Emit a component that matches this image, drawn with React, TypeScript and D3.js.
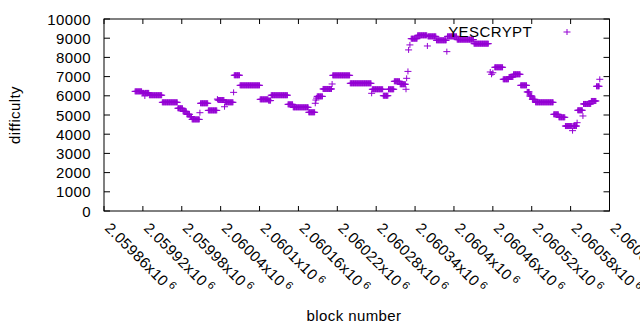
import React from "react";
import * as d3 from "d3";

// difficulty holds constant over runs of blocks: first block, run length, value
const runFirst = [
  2059908, 2059919, 2059923, 2059924, 2059930, 2059950, 2059974, 2059982, 2059988, 2059993,
  2059996, 2060008, 2060009, 2060021, 2060035, 2060036, 2060046, 2060047, 2060060, 2060061,
  2060070, 2060101, 2060114, 2060118, 2060144, 2060152, 2060176, 2060186, 2060187, 2060188,
  2060189, 2060198, 2060212, 2060213, 2060240, 2060273, 2060274, 2060291, 2060299, 2060308,
  2060317, 2060326, 2060327, 2060329, 2060330, 2060332, 2060334, 2060344, 2060359, 2060360,
  2060373, 2060389, 2060390, 2060405, 2060431, 2060456, 2060458, 2060460, 2060463, 2060476,
  2060485, 2060492, 2060503, 2060513, 2060517, 2060521, 2060526, 2060554, 2060562, 2060572,
  2060583, 2060584, 2060590, 2060591, 2060599, 2060600, 2060612, 2060620, 2060625,
];
const runLength = [
  11, 4, 1, 6, 20, 24, 8, 6, 5, 3,
  12, 1, 12, 14, 1, 10, 1, 13, 1, 9,
  31, 13, 4, 26, 8, 24, 10, 1, 1, 1,
  9, 14, 1, 27, 33, 1, 17, 8, 9, 9,
  9, 1, 1, 1, 1, 1, 10, 15, 1, 13,
  16, 1, 15, 26, 23, 1, 1, 1, 13, 9,
  7, 11, 10, 4, 4, 5, 28, 8, 10, 11,
  1, 6, 1, 8, 1, 12, 8, 5, 1,
];
const runDifficulty = [
  6230, 6150, 5990, 6150, 6030, 5660, 5350, 5190, 5035, 4910,
  4770, 5120, 5610, 5240, 5830, 5780, 5430, 5660, 6180, 7070,
  6545, 5815, 5750, 6030, 5555, 5400, 5140, 5610, 5780, 5880,
  5970, 6355, 6615, 7065, 6650, 6130, 6340, 6005, 6340, 6755,
  6600, 6340, 6910, 7270, 8390, 8650, 8975, 9150, 8595, 9095,
  8890, 8300, 9095, 8925, 8715, 7240, 7120, 7200, 7485, 6860,
  6980, 7120, 6545, 6200, 5990, 5815, 5660, 5035, 4880, 4425,
  4185, 4425, 4600, 5245, 4950, 5575, 5730, 6495, 6860,
];

const xTicks = [
  2059860, 2059920, 2059980, 2060040, 2060100, 2060160, 2060220,
  2060280, 2060340, 2060400, 2060460, 2060520, 2060580, 2060640,
];
const yTicks = [0, 1000, 2000, 3000, 4000, 5000, 6000, 7000, 8000, 9000, 10000];
const seriesName = "YESCRYPT";

const W = 640;
const H = 330;
const left = 104;
const right = 609.5;
const top = 19;
const bottom = 211;
const color = "#9400d3";
const font = "'Liberation Sans', Arial, sans-serif";

const plus = (px: number, py: number) => `M${px - 3.5},${py}h7M${px},${py - 3}v6`;

export default function App() {
  const x = d3.scaleLinear().domain([xTicks[0], xTicks[xTicks.length - 1]]).range([left, right]);
  const y = d3.scaleLinear().domain([0, 10000]).range([bottom, top]);

  const points = runFirst.flatMap((b, i) =>
    d3.range(runLength[i]).map((k) => [b + k, runDifficulty[i]])
  );
  const marks = points.map(([b, v]) => plus(x(b), y(v))).join("");

  const fmt = (t: number) => String(+(t / 1e6).toFixed(5));

  return (
    <svg
      width={W}
      height={H}
      style={{ position: "absolute", left: 0, top: 0, background: "#fff" }}
      fontFamily={font}
      fontSize={15}
      letterSpacing={0.4}
    >
      <rect width={W} height={H} fill="#fff" />
      {yTicks.map((t) => (
        <g key={t}>
          <line x1={left} x2={left + 6} y1={y(t)} y2={y(t)} stroke="#000" />
          <line x1={right - 6} x2={right} y1={y(t)} y2={y(t)} stroke="#000" />
          <text x={91} y={y(t) + 5.5} textAnchor="end" fill="#000">
            {t}
          </text>
        </g>
      ))}
      {xTicks.map((t) => (
        <g key={t}>
          <line x1={x(t)} x2={x(t)} y1={bottom} y2={bottom - 5} stroke="#000" />
          <line x1={x(t)} x2={x(t)} y1={top} y2={top + 5} stroke="#000" />
          <text transform={`translate(${x(t)},229) rotate(45)`} fill="#000">
            {fmt(t)}x10
            <tspan fontSize={11} dx={3} dy={-5}>6</tspan>
          </text>
        </g>
      ))}
      <rect
        x={left}
        y={top}
        width={right - left}
        height={bottom - top}
        fill="none"
        stroke="#000"
      />
      <path d={marks} stroke={color} strokeWidth={1} fill="none" />
      <text x={532} y={37} textAnchor="end" fill="#000">
        {seriesName}
      </text>
      <path d={plus(567, 32)} stroke={color} strokeWidth={1} fill="none" />
      <text transform="translate(20,115) rotate(-90)" textAnchor="middle" fill="#000">
        difficulty
      </text>
      <text x={354} y={321} textAnchor="middle" fill="#000">
        block number
      </text>
    </svg>
  );
}
